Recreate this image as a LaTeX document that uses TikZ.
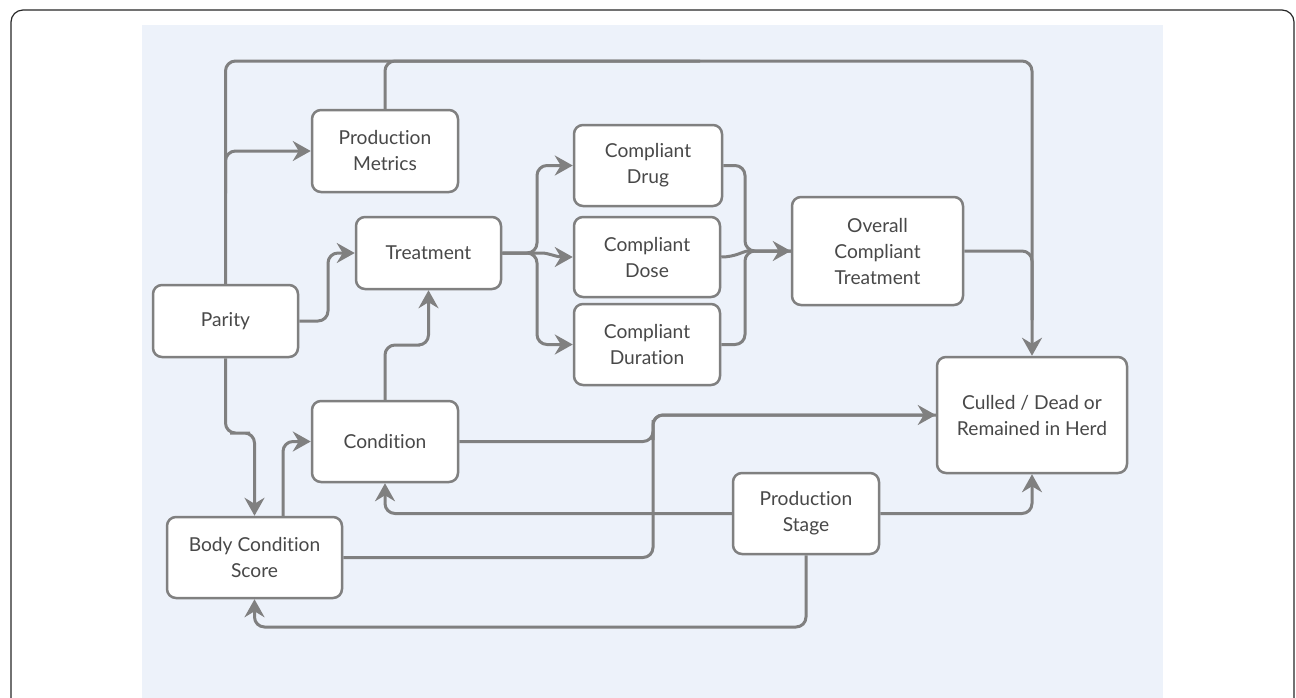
\documentclass[tikz,border=0pt]{standalone}
\usepackage{fontspec}
\setmainfont{Lato}[Ligatures=NoCommon]
\usetikzlibrary{arrows.meta}
\definecolor{linegray}{RGB}{128,128,128}
\definecolor{textgray}{RGB}{72,72,72}
\definecolor{paleblue}{RGB}{237,242,250}
\begin{document}
\begin{tikzpicture}[x=1pt,y=-1pt,
    box/.style={draw=linegray,line width=2.5pt,fill=white,rounded corners=9pt,
      align=center,text=textgray,inner sep=0pt,
      font=\fontsize{19.2}{26}\selectfont},
    link/.style={draw=linegray,line width=3pt,rounded corners=10pt},
    arr/.style={link,-{Stealth[length=18pt,width=20pt,inset=6pt]}}]
\useasboundingbox (0,0) rectangle (1296,697);
\clip (0,0) rectangle (1296,697);
\draw[black!85,line width=1.2pt,rounded corners=12pt] (11,10) rectangle (1294,760);
\fill[paleblue] (142,25) rectangle (1163,760);
\path
    ( 385  ,151  ) node [box,minimum width=146pt,minimum height=82pt]  (pm)      {Production\\Metrics}
    ( 428.5,253  ) node [box,minimum width=145pt,minimum height=72pt]  (treat)   {Treatment}
    ( 225.5,321  ) node [box,minimum width=145pt,minimum height=72pt]  (parity)  {Parity}
    ( 648  ,165.5) node [box,minimum width=148pt,minimum height=81pt]  (drug)    {Compliant\\Drug}
    ( 647  ,257  ) node [box,minimum width=146pt,minimum height=80pt]  (dose)    {Compliant\\Dose}
    ( 647  ,344.5) node [box,minimum width=146pt,minimum height=81pt]  (dur)     {Compliant\\Duration}
    ( 877.5,251  ) node [box,minimum width=171pt,minimum height=108pt] (overall) {Overall\\Compliant\\Treatment}
    (1032  ,415  ) node [box,minimum width=190pt,minimum height=116pt] (culled)  {Culled / Dead or\\Remained in Herd}
    ( 385  ,441.5) node [box,minimum width=146pt,minimum height=81pt]  (cond)    {Condition}
    ( 254.5,557.5) node [box,minimum width=175pt,minimum height=81pt]  (bcs)     {Body Condition\\Score}
    ( 806  ,513.5) node [box,minimum width=146pt,minimum height=81pt]  (stage)   {Production\\Stage};
\draw[arr]  (parity.north) |- (1032,61) -- (culled.north);
\draw[link] (pm.north) |- (700,61);
\draw[arr]  (parity.north |- pm.south) |- (pm.west);
\draw[arr]  (parity.east) -| (328,290) |- (treat.west);
\draw[arr]  (parity.south) |- (240,433) -| (bcs.north);
\draw[arr]  (bcs.north -| 283,0) |- (cond.west);
\draw[arr]  (cond.north) |- (410,345) -| (treat.south);
\draw[arr]  (treat.east) -| (537,200) |- (drug.west);
\draw[arr]  (treat.east) -- (532,253) to[out=0,in=180] (dose.west);
\draw[arr]  (treat.east) -| (537,300) |- (dur.west);
\draw[link] (drug.east) -| (745,200) |- (overall.west);
\draw[link] (dose.east) to[out=0,in=180] (758,251) -- (overall.west);
\draw[arr]  (dur.east) -| (745,300) |- (overall.west);
\draw[link] (overall.east) -| (1032,320);
\draw[link] (cond.east) -| (653,430) |- (culled.west);
\draw[arr]  (bcs.east) -| (653,480) |- (culled.west);
\draw[arr]  (stage.west) -| (cond.south);
\draw[arr]  (stage.east) -| (culled.south);
\draw[arr]  (stage.south) |- (500,627) -| (bcs.south);
\end{tikzpicture}
\end{document}
